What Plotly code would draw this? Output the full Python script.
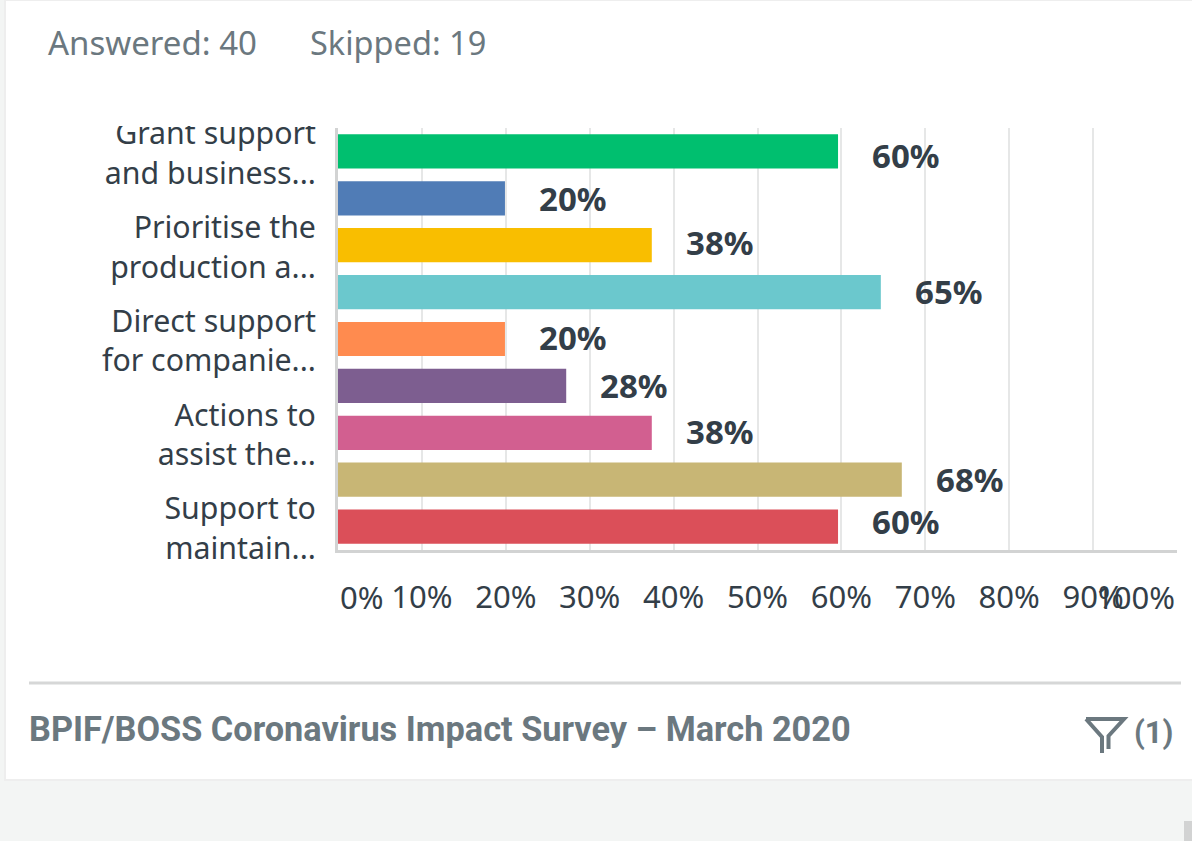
import plotly.graph_objects as go

categories = ["Grant support<br>and business...", "Business support", "Prioritise the<br>production a...",
              "Training", "Direct support<br>for companie...", "Supply chain",
              "Actions to<br>assist the...", "Cash flow", "Support to<br>maintain..."]
shown_labels = [categories[0], "", categories[2], "", categories[4], "", categories[6], "", categories[8]]
values = [60, 20, 38, 65, 20, 28, 38, 68, 60]
bar_values = [59.6, 19.9, 37.4, 64.7, 19.9, 27.2, 37.4, 67.2, 59.6]
colors = ["#00BF6F", "#507CB6", "#F9BE00", "#6BC8CD", "#FF8B4F", "#7D5E90", "#D25F90", "#C8B675", "#DB4F59"]
label_nudge = [-4, 0, 3, 1, 2, 0, 1, 0, 5]
x_ticks = list(range(0, 101, 10))

W, H = 1192, 841
L, R, T, B = 338, 1177, 128, 550
px = lambda x: (x - L) / (R - L)
py = lambda y: (B - y) / (B - T)
DARK = "#333E48"
GREY = "#6B787F"
SANS = "Noto Sans"

fig = go.Figure(go.Bar(
    y=list(range(9)), x=bar_values, orientation="h",
    marker=dict(color=colors, line=dict(width=0)), width=0.73, hoverinfo="skip",
))

shapes = [
    dict(type="rect", xref="paper", yref="paper", x0=px(5), x1=px(1200), y0=py(0), y1=py(780),
         fillcolor="white", line=dict(color="#EEEEEE", width=2), layer="below"),
    dict(type="rect", xref="paper", yref="paper", x0=px(90), x1=px(336), y0=py(100), y1=py(126),
         fillcolor="white", line=dict(width=0)),
    dict(type="line", xref="paper", yref="paper", x0=px(29), x1=px(1181), y0=py(683), y1=py(683),
         line=dict(color="#D6D7D7", width=3)),
    dict(type="rect", xref="paper", yref="paper", x0=px(1184), x1=px(1192), y0=py(821), y1=py(841),
         fillcolor="#D2D3D3", line=dict(width=0)),
    dict(type="path", xref="paper", yref="paper",
         path=f"M {px(1086)} {py(719)} L {px(1124)} {py(719)} L {px(1108.5)} {py(736)} L {px(1108.5)} {py(749)} "
              f"M {px(1086)} {py(719)} L {px(1102)} {py(737)} L {px(1102)} {py(753)}",
         line=dict(color=GREY, width=4)),
]

annotations = [
    dict(x=px(46), y=py(42), xref="paper", yref="paper", text="Answered: 40", xanchor="left", yanchor="middle",
         showarrow=False, font=dict(family=SANS, size=33, color=GREY)),
    dict(x=px(308), y=py(42), xref="paper", yref="paper", text="Skipped: 19", xanchor="left", yanchor="middle",
         showarrow=False, font=dict(family=SANS, size=32.5, color=GREY)),
    dict(x=px(27), y=py(729), xref="paper", yref="paper", text="<b>BPIF/BOSS Coronavirus Impact Survey – March 2020</b>",
         xanchor="left", yanchor="middle", showarrow=False, font=dict(family="Roboto", size=34.3, color=GREY)),
    dict(x=px(1132), y=py(732), xref="paper", yref="paper", text="<b>(1)</b>", xanchor="left", yanchor="middle",
         showarrow=False, font=dict(family="Roboto", size=31, color=GREY)),
    dict(x=0, y=py(597), xref="x", yref="paper", text="0%", xanchor="left", yanchor="middle", showarrow=False,
         font=dict(family=SANS, size=31, color=DARK)),
    dict(x=100, y=py(597), xref="x", yref="paper", text="100%", xanchor="right", yanchor="middle", showarrow=False,
         font=dict(family=SANS, size=31, color=DARK)),
]
for i, (b, v, n) in enumerate(zip(bar_values, values, label_nudge)):
    annotations.append(dict(x=b, y=i, xref="x", yref="y", text=f"<b>{v}%</b>", xanchor="left", yanchor="middle",
                            xshift=32, yshift=n, showarrow=False, font=dict(family=SANS, size=33, color=DARK)))

fig.update_layout(
    width=W, height=H, margin=dict(l=L, r=W - R, t=T, b=H - B), autosize=False,
    paper_bgcolor="#F3F5F4", plot_bgcolor="white", showlegend=False,
    font=dict(family=SANS, color=DARK), shapes=shapes, annotations=annotations,
    xaxis=dict(range=[0, 100], tickmode="array", tickvals=x_ticks,
               ticktext=["" if t in (0, 100) else f"{t}%" for t in x_ticks],
               showgrid=True, gridcolor="#E6E7E7", gridwidth=2, zeroline=False,
               showline=True, linecolor="#D2D3D3", linewidth=3, ticks="", ticklabelstandoff=18,
               tickfont=dict(family=SANS, size=31, color=DARK), tickangle=0),
    yaxis=dict(range=[8.5, -0.5], tickmode="array", tickvals=list(range(9)), ticktext=shown_labels,
               showgrid=False, zeroline=False, showline=True, linecolor="#D2D3D3", linewidth=3, ticks="",
               ticklabelstandoff=13, ticklabelshift=-2, tickfont=dict(family=SANS, size=30.3, color=DARK)),
)
fig.write_html("out.html", config=dict(displayModeBar=False),
               post_script="document.body.style.margin='0';document.body.style.overflow='hidden';")
